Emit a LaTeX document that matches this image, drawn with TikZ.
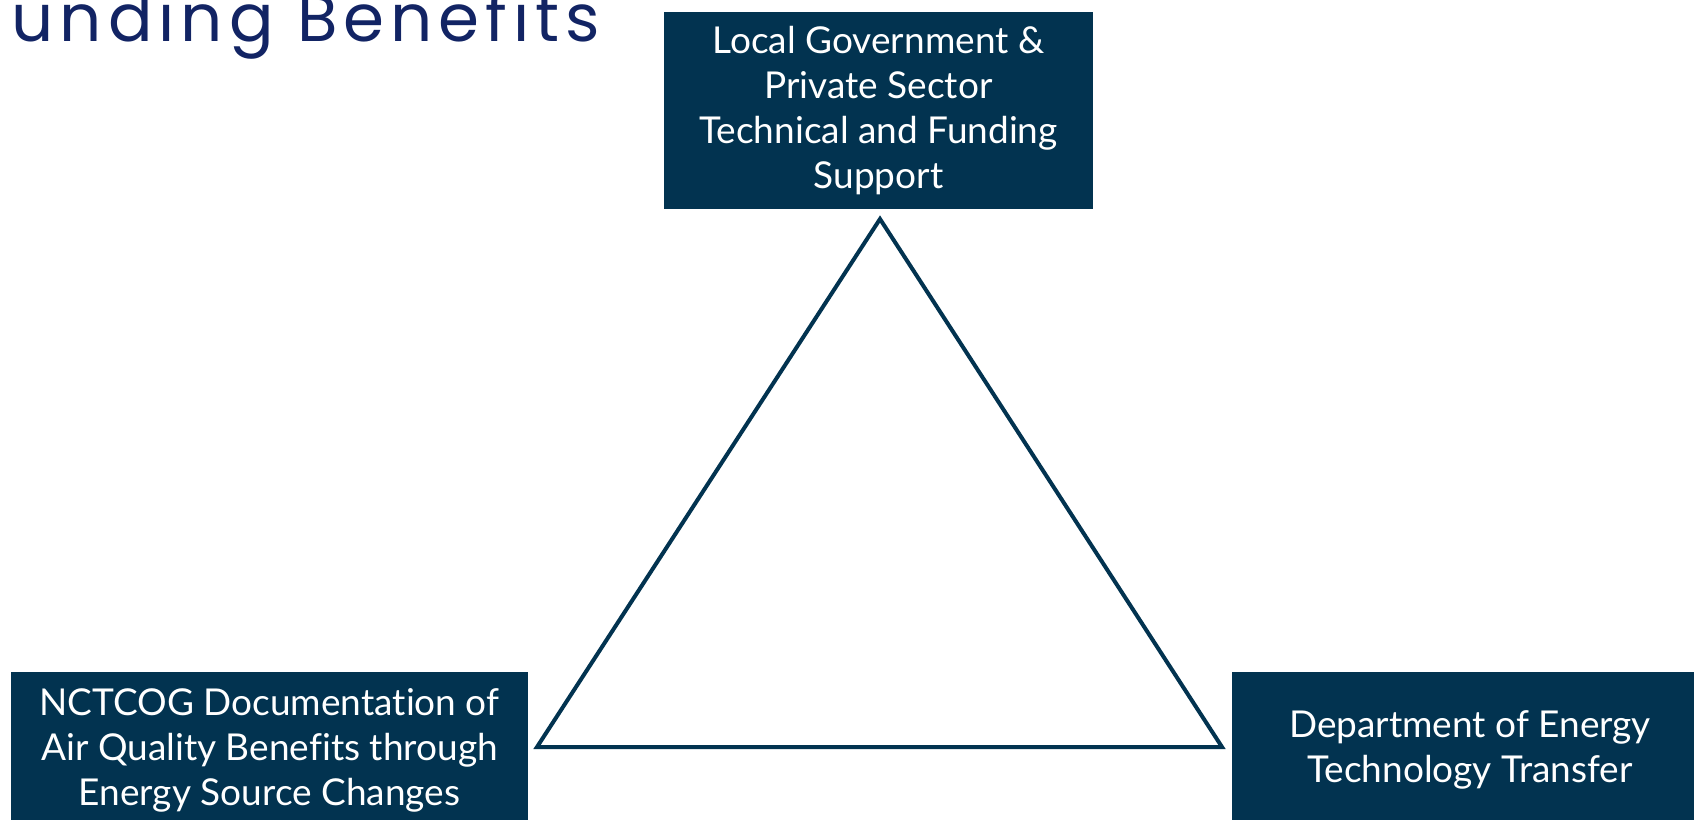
\documentclass[tikz,border=0pt]{standalone}
\usepackage{fontspec}
\setmainfont{Lato}[Ligatures=NoCommon]
\newfontfamily\titlefont{Poppins}[LetterSpace=9]
\definecolor{boxblue}{RGB}{2,51,80}
\definecolor{titleblue}{RGB}{18,36,100}
\tikzset{
  infobox/.style={fill=boxblue, draw=none, text=white, align=center, inner sep=0pt,
    font=\fontsize{37}{45}\selectfont},
  triline/.style={draw=boxblue, line width=4pt, line join=miter}
}
\begin{document}
\begin{tikzpicture}[x=1pt,y=-1pt]
\useasboundingbox (0,0) rectangle (1694,819);
\node[anchor=base east, inner sep=0pt, text=titleblue, font=\titlefont\fontsize{66}{70}\selectfont] (title) at (600,41) {unding Benefits};
\node[infobox, minimum width=429pt, minimum height=197pt] (top) at (878.5,110.5)
  {Local Government \&\\Private Sector\\Technical and Funding\\Support};
\node[infobox, minimum width=517pt, minimum height=156pt] (left) at (269.5,750)
  {NCTCOG Documentation of\\Air Quality Benefits through\\Energy Source Changes};
\node[infobox, minimum width=476pt, minimum height=156pt] (right) at (1470,750)
  {Department of Energy\\Technology Transfer};
\coordinate (apex) at (880,219);
\coordinate (bl) at (537,747);
\coordinate (br) at (1222,747);
\draw[triline] (apex) -- (br) -- (bl) -- cycle;
\end{tikzpicture}
\end{document}
